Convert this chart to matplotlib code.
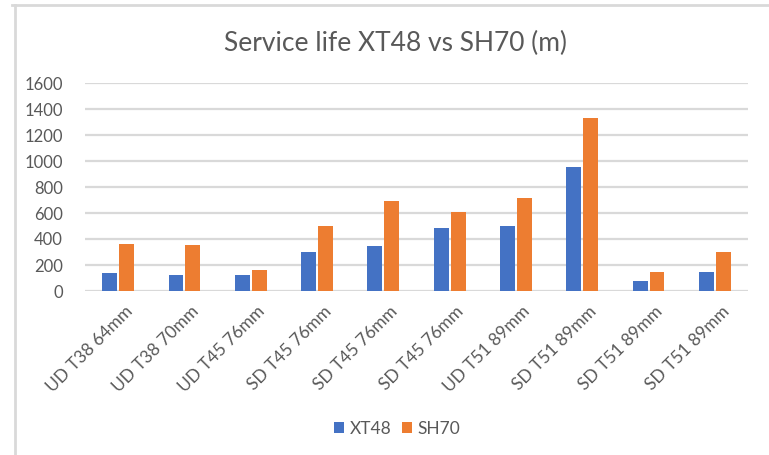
import matplotlib
matplotlib.use("Agg")
import matplotlib.pyplot as plt
from matplotlib.lines import Line2D
import matplotlib.transforms as mtransforms
import numpy as np

categories = ["UD T38 64mm", "UD T38 70mm", "UD T45 76mm", "SD T45 76mm", "SD T45 76mm",
              "SD T45 76mm", "UD T51 89mm", "SD T51 89mm", "SD T51 89mm", "SD T51 89mm"]
xt48 = [138, 122, 122, 299, 344, 482, 498, 955, 74, 143]
sh70 = [360, 352, 161, 498, 691, 607, 714, 1332, 143, 299]
yticks = [0, 200, 400, 600, 800, 1000, 1200, 1400, 1600]

BLUE = "#4472C4"
ORANGE = "#ED7D31"
GRID = "#D9D9D9"
TXT = "#595959"

plt.rcParams['font.family'] = ['Lato', 'DejaVu Sans']

W, H = 769, 455
fig = plt.figure(figsize=(W / 100, H / 100), dpi=100)
ax = fig.add_axes([85 / W, 1 - 291 / H, (748 - 85) / W, (291 - 83) / H])

x = np.arange(len(categories))
bw = 0.225
ax.bar(x - 0.128, xt48, width=bw, color=BLUE, label="XT48", zorder=3)
ax.bar(x + 0.128, sh70, width=bw, color=ORANGE, label="SH70", zorder=3)

ax.set_xlim(-0.5, len(categories) - 0.5)
ax.set_ylim(0, 1600)
ax.set_yticks(yticks)
ax.set_yticklabels([str(v) for v in yticks])
ax.yaxis.grid(True, color=GRID, linewidth=1.6, zorder=0)
ax.set_axisbelow(True)
for s in ax.spines.values():
    s.set_visible(False)
ax.tick_params(axis='y', length=0, pad=16, labelsize=12, labelcolor=TXT)
ax.tick_params(axis='x', length=0, pad=9, labelsize=12.5, labelcolor=TXT)
ax.set_xticks(x)
ax.set_xticklabels(categories, rotation=45, ha='right', va='top', rotation_mode='anchor')
offset = mtransforms.ScaledTranslation(6 / 100, 0, fig.dpi_scale_trans)
for lbl in ax.get_xticklabels():
    lbl.set_transform(lbl.get_transform() + offset)

fig.text(396 / W, 1 - 43 / H, "Service life XT48 vs SH70 (m)", ha='center', va='center',
         fontsize=19, color=TXT, fontweight='normal')

leg = fig.legend(loc='center', bbox_to_anchor=(397 / W, 1 - 429 / H), ncol=2, frameon=False,
                 handlelength=0.6, handleheight=0.6, handletextpad=0.3, columnspacing=0.6,
                 fontsize=12.5, labelcolor=TXT)

fig.add_artist(Line2D([12 / W, 1], [1 - 4.5 / H, 1 - 4.5 / H], transform=fig.transFigure,
                      color=GRID, linewidth=2))
fig.add_artist(Line2D([15 / W, 15 / W], [0, 1 - 4.5 / H], transform=fig.transFigure,
                      color=GRID, linewidth=2))

fig.savefig("out.png", dpi=100, facecolor='white')
